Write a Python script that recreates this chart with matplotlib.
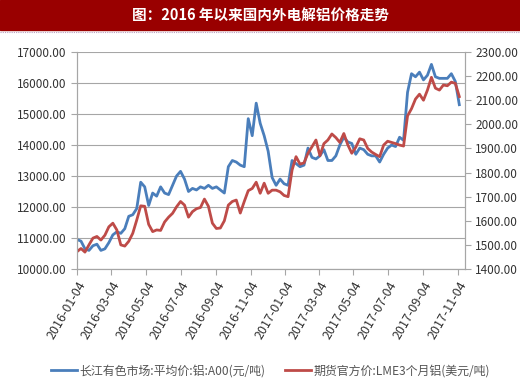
import matplotlib
matplotlib.use("Agg")
import matplotlib.pyplot as plt
import matplotlib.dates as mdates
from matplotlib.lines import Line2D
from matplotlib.patches import Rectangle
import pandas as pd

plt.rcParams['font.family'] = ['Noto Sans CJK SC', 'DejaVu Sans']

# weekly samples starting 2016-01-04
dates = pd.date_range('2016-01-04', periods=97, freq='7D')

# 长江有色市场 A00 (元/吨), left axis
cj_a00 = [10950, 10900, 10650, 10600, 10750, 10800, 10600, 10650, 10850, 11100,
          11200, 11150, 11300, 11700, 11750, 11950, 12800, 12650, 12050, 12450,
          12350, 12650, 12450, 12400, 12700, 13000, 13150, 12900, 12500, 12600,
          12550, 12650, 12600, 12700, 12600, 12650, 12550, 12450, 13300, 13500,
          13450, 13350, 13300, 14850, 14300, 15350, 14700, 14300, 13800, 12950,
          12700, 12900, 12750, 12700, 13500, 13400, 13300, 13350, 13900, 13600,
          13550, 13650, 13850, 13500, 13500, 13650, 14000, 14250, 14100, 14050,
          13700, 13900, 13850, 13700, 13650, 13650, 13450, 13700, 13900, 14000,
          13950, 14250, 14150, 15700, 16300, 16200, 16350, 16100, 16250, 16600,
          16200, 16150, 16150, 16150, 16300, 16050, 15300]

# LME 3个月铝 (美元/吨), right axis
lme3 = [1472, 1485, 1470, 1500, 1528, 1535, 1520, 1540, 1575, 1590,
        1562, 1500, 1495, 1515, 1548, 1603, 1662, 1660, 1585, 1555,
        1562, 1560, 1595, 1615, 1631, 1658, 1680, 1665, 1615, 1638,
        1650, 1655, 1690, 1660, 1590, 1568, 1570, 1600, 1665, 1680,
        1686, 1632, 1680, 1725, 1734, 1760, 1714, 1756, 1714, 1727,
        1727, 1720, 1705, 1700, 1810, 1866, 1835, 1840, 1880, 1907,
        1935, 1870, 1920, 1935, 1960, 1945, 1925, 1962, 1915, 1880,
        1905, 1940, 1935, 1900, 1885, 1875, 1866, 1914, 1930, 1925,
        1920, 1914, 1910, 2035, 2065, 2105, 2125, 2100, 2142, 2195,
        2150, 2142, 2163, 2160, 2175, 2170, 2115]

tick_labels = ['2016-01-04', '2016-03-04', '2016-05-04', '2016-07-04', '2016-09-04',
               '2016-11-04', '2017-01-04', '2017-03-04', '2017-05-04', '2017-07-04',
               '2017-09-04', '2017-11-04']
left_ticks = list(range(10000, 17001, 1000))
right_ticks = list(range(1400, 2301, 100))

fig = plt.figure(figsize=(5.2, 3.87), dpi=100)

# title bar
fig.add_artist(Rectangle((0, 1 - 30 / 387), 1, 30 / 387, transform=fig.transFigure,
                         color='#990000', zorder=0))
fig.text(0.5, 1 - 15 / 387, '图：2016 年以来国内外电解铝价格走势', color='white',
         fontsize=10.5, fontweight='bold', ha='center', va='center')
fig.add_artist(Line2D([0, 1], [1 - 31.5 / 387] * 2, transform=fig.transFigure,
                      color='#b9a0c0', lw=0.8, ls=(0, (1, 1))))

ax = fig.add_axes([77 / 520, 1 - 269 / 387, 388 / 520, 217 / 387])
ax2 = ax.twinx()

l1, = ax.plot(dates, cj_a00, color='#4a7ebb', lw=2)
l2, = ax2.plot(dates, lme3, color='#be4b48', lw=2)

ax.set_ylim(10000, 17000)
ax2.set_ylim(1400, 2300)
ax.set_yticks(left_ticks)
ax.set_yticklabels([f'{v:.2f}' for v in left_ticks])
ax2.set_yticks(right_ticks)
ax2.set_yticklabels([f'{v:.2f}' for v in right_ticks])

ax.set_xlim(pd.Timestamp('2016-01-04'), pd.Timestamp('2017-11-16'))
ax.set_xticks(pd.to_datetime(tick_labels))
ax.xaxis.set_major_formatter(mdates.DateFormatter('%Y-%m-%d'))
plt.setp(ax.get_xticklabels(), rotation=60, ha='right', rotation_mode='anchor')

ax.grid(axis='y', color='#a6a6a6', lw=0.8)
ax.set_axisbelow(True)
for a in (ax, ax2):
    a.spines['top'].set_visible(False)
    for s in ('left', 'right', 'bottom'):
        a.spines[s].set_color('#a6a6a6')
    a.tick_params(colors='#a6a6a6', labelcolor='#333333', labelsize=8.5, length=4)
ax.tick_params(axis='x', labelsize=9)

fig.legend([l1, l2], ['长江有色市场:平均价:铝:A00(元/吨)', '期货官方价:LME3个月铝(美元/吨)'],
           loc='center', bbox_to_anchor=(0.52, 1 - 371 / 387), ncol=2, frameon=False,
           fontsize=8.6, labelcolor='#555555', handlelength=2.2, handletextpad=0.2,
           columnspacing=1.6)

fig.savefig('out.png', dpi=100)
